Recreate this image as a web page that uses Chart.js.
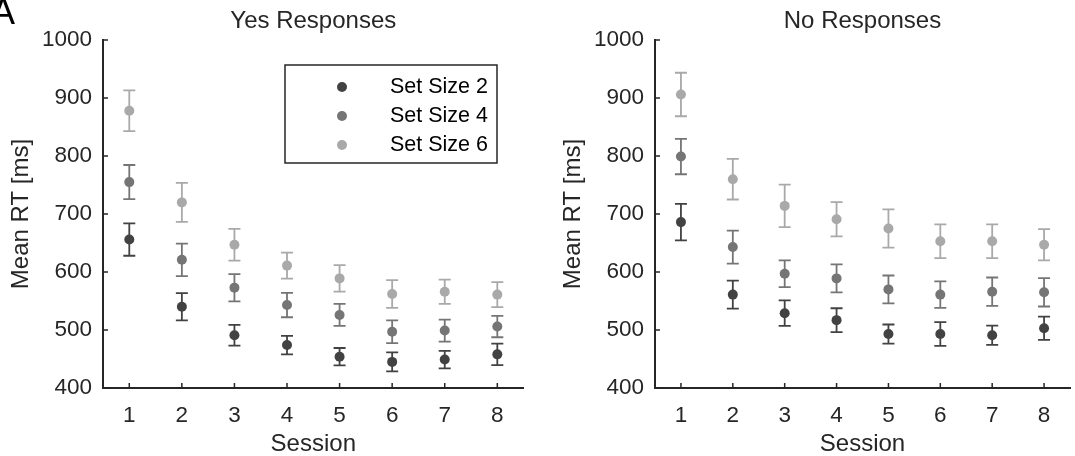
<!DOCTYPE html>
<html>
<head>
<meta charset="utf-8">
<title>Mean RT by session</title>
<script src="https://cdn.jsdelivr.net/npm/chart.js@4.4.1/dist/chart.umd.min.js"></script>
<style>
  html, body { margin: 0; padding: 0; background: #fff; overflow: hidden; }
  #wrap { position: relative; width: 1075px; height: 456px; }
  #wrap canvas { position: absolute; top: 0; }
  #yesChart { left: 0; }
  #noChart { left: 540px; }
  #panel {
    position: absolute; left: -9px; top: -6px;
    font: 36px "Liberation Sans", Arial, sans-serif; line-height: 36px; color: #000;
  }
</style>
</head>
<body>
<div id="wrap">
  <canvas id="yesChart" width="540" height="456"></canvas>
  <canvas id="noChart" width="535" height="456"></canvas>
  <div id="panel">A</div>
</div>
<script>
// ---- data ----
const sessions = ['1', '2', '3', '4', '5', '6', '7', '8'];
const setSizes = ['Set Size 2', 'Set Size 4', 'Set Size 6'];
const seriesColors = ['#424242', '#757575', '#a9a9a9'];
const yMin = 400;
const yMax = 1000;
const yStep = 100;

// Yes responses: means and error half-widths
const yesSize2 = [656, 540, 491, 474, 454, 445, 449, 458];
const yesSize2Err = [28, 23.5, 18, 16, 15, 16.5, 15, 18.5];
const yesSize4 = [755, 621, 573, 543, 526, 497, 499, 506];
const yesSize4Err = [29.5, 28, 23.5, 21, 19, 19.5, 19, 18.5];
const yesSize6 = [878, 720, 647, 611, 589, 562, 566, 561];
const yesSize6Err = [35, 33.5, 27.5, 22.5, 23, 24, 21, 21.5];

// No responses
const noSize2 = [686, 561, 529, 517, 493, 493, 491, 503];
const noSize2Err = [31.5, 24, 22, 20.5, 16.5, 20.5, 16.5, 20];
const noSize4 = [799, 643, 597, 589, 570, 561, 566, 565];
const noSize4Err = [30.5, 28.5, 23, 24, 24, 23, 24.5, 24.5];
const noSize6 = [906, 760, 714, 691, 675, 653, 653, 647];
const noSize6Err = [37.5, 35, 36.5, 29.5, 33, 29, 29, 27];

const axisColor = '#262626';
const fontFamily = '"Liberation Sans", Arial, Helvetica, sans-serif';

// error bars drawn under the markers
const errorBarPlugin = {
  id: 'errorBars',
  beforeDatasetsDraw(chart, args, opts) {
    const ctx = chart.ctx;
    const x = chart.scales.x;
    const y = chart.scales.y;
    chart.data.datasets.forEach(function(ds) {
      if (!ds.errors) return;
      ctx.save();
      ctx.strokeStyle = ds.borderColor;
      ctx.lineWidth = opts.lineWidth;
      ctx.beginPath();
      ds.data.forEach(function(v, j) {
        const px = x.getPixelForValue(j);
        const top = y.getPixelForValue(v + ds.errors[j]);
        const bot = y.getPixelForValue(v - ds.errors[j]);
        ctx.moveTo(px, top);
        ctx.lineTo(px, bot);
        ctx.moveTo(px - opts.cap, top);
        ctx.lineTo(px + opts.cap, top);
        ctx.moveTo(px - opts.cap, bot);
        ctx.lineTo(px + opts.cap, bot);
      });
      ctx.stroke();
      ctx.restore();
    });
  }
};

// MATLAB-style tick marks pointing into the plot
const innerTicksPlugin = {
  id: 'innerTicks',
  afterDraw(chart, args, opts) {
    const ctx = chart.ctx;
    const area = chart.chartArea;
    const x = chart.scales.x;
    const y = chart.scales.y;
    ctx.save();
    ctx.strokeStyle = axisColor;
    ctx.lineWidth = opts.lineWidth;
    ctx.beginPath();
    x.ticks.forEach(function(t, i) {
      const px = x.getPixelForTick(i);
      ctx.moveTo(px, area.bottom);
      ctx.lineTo(px, area.bottom - opts.length);
    });
    y.ticks.forEach(function(t, i) {
      const py = y.getPixelForTick(i);
      ctx.moveTo(area.left, py);
      ctx.lineTo(area.left + opts.length, py);
    });
    ctx.stroke();
    ctx.restore();
  }
};

// boxed legend placed inside the plot area
const boxLegendPlugin = {
  id: 'boxLegend',
  afterDraw(chart, args, opts) {
    if (!opts.display) return;
    const ctx = chart.ctx;
    ctx.save();
    ctx.fillStyle = '#fff';
    ctx.fillRect(opts.left, opts.top, opts.width, opts.height);
    ctx.strokeStyle = axisColor;
    ctx.lineWidth = 1.5;
    ctx.strokeRect(opts.left, opts.top, opts.width, opts.height);
    ctx.font = opts.fontSize + 'px ' + fontFamily;
    ctx.textBaseline = 'middle';
    ctx.textAlign = 'left';
    chart.data.datasets.forEach(function(ds, i) {
      const cy = opts.firstRow + i * opts.rowGap;
      ctx.fillStyle = ds.backgroundColor;
      ctx.beginPath();
      ctx.arc(opts.markerX, cy, 5, 0, Math.PI * 2);
      ctx.fill();
      ctx.fillStyle = '#000';
      ctx.fillText(ds.label, opts.textX, cy);
    });
    ctx.restore();
  }
};

function makeChart(canvasId, titleText, means, errs, layoutOpts) {
  const canvas = document.getElementById(canvasId);
  const ctx = canvas.getContext('2d');
  const tickFont = { family: fontFamily, size: 22.5, weight: 'normal' };
  const labelFont = { family: fontFamily, size: 24, weight: 'normal', lineHeight: 1 };

  return new Chart(ctx, {
    type: 'line',
    data: {
      labels: sessions,
      datasets: setSizes.map(function(label, k) {
        return {
          label: label,
          data: means[k],
          errors: errs[k],
          showLine: false,
          pointRadius: 5,
          pointBorderWidth: 0,
          pointBackgroundColor: seriesColors[k],
          borderColor: seriesColors[k],
          backgroundColor: seriesColors[k]
        };
      })
    },
    plugins: [errorBarPlugin, innerTicksPlugin, boxLegendPlugin],
    options: {
      responsive: false,
      animation: false,
      devicePixelRatio: 1,
      events: [],
      layout: { padding: { left: 0, right: layoutOpts.rightPad, top: 0, bottom: 0 } },
      plugins: {
        legend: { display: false },
        tooltip: { enabled: false },
        title: {
          display: true,
          text: titleText,
          fullSize: false,
          color: axisColor,
          font: { family: fontFamily, size: 24, weight: 'normal', lineHeight: 1.1 },
          padding: { top: 8.5, bottom: 5.1 }
        },
        errorBars: { lineWidth: 1.8, cap: 6 },
        innerTicks: { lineWidth: 1.5, length: 5 },
        boxLegend: layoutOpts.legend
      },
      scales: {
        x: {
          type: 'category',
          offset: true,
          grid: { display: false, drawTicks: false },
          border: { display: true, color: axisColor, width: 2 },
          ticks: { color: axisColor, font: tickFont, padding: 14, maxRotation: 0 },
          title: {
            display: true,
            text: 'Session',
            color: axisColor,
            font: labelFont,
            padding: { top: 0, bottom: -0.5 }
          },
          afterFit: function(scale) { scale.height = 68; }
        },
        y: {
          min: yMin,
          max: yMax,
          grid: { display: false, drawTicks: false },
          border: { display: true, color: axisColor, width: 2 },
          ticks: {
            stepSize: yStep,
            color: axisColor,
            font: tickFont,
            padding: 11,
            callback: function(value) { return String(value); }
          },
          title: {
            display: true,
            text: 'Mean RT [ms]',
            color: axisColor,
            font: labelFont,
            padding: { top: layoutOpts.yTitlePad, bottom: 0 }
          },
          afterFit: function(scale) { scale.width = layoutOpts.yAxisWidth; }
        }
      }
    }
  });
}

makeChart('yesChart', 'Yes Responses',
  [yesSize2, yesSize4, yesSize6],
  [yesSize2Err, yesSize4Err, yesSize6Err],
  {
    rightPad: 16.4, yAxisWidth: 103, yTitlePad: 9.6,
    legend: { display: true, left: 285, top: 65, width: 212, height: 98,
              markerX: 342, textX: 390, firstRow: 87, rowGap: 29, fontSize: 21.5 }
  });

makeChart('noChart', 'No Responses',
  [noSize2, noSize4, noSize6],
  [noSize2Err, noSize4Err, noSize6Err],
  {
    rightPad: 0, yAxisWidth: 115, yTitlePad: 21,
    legend: { display: false }
  });
</script>
</body>
</html>
